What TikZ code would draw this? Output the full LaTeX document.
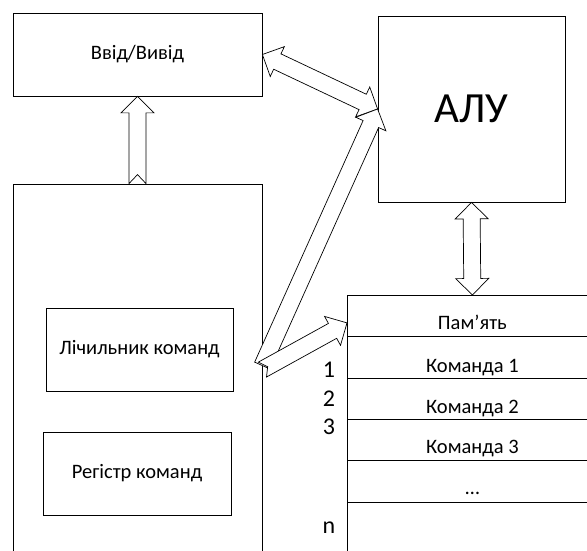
\documentclass[tikz,border=0pt]{standalone}
\usepackage{fontspec}
\setmainfont{Carlito}
\usetikzlibrary{calc}

% block-arrow geometry
\newcommand\shaft{8.5pt}
\newcommand\head{16.5pt}
\newcommand\headlen{16.5pt}

% hollow arrow with a head at each end: #1 -- #2
\newcommand\twowayarrow[2]{%
  \filldraw[blockarrow] (#1)
    -- ($(#1)!\headlen!(#2)!\head!90:(#2)$)
    -- ($(#1)!\headlen!(#2)!\shaft!90:(#2)$)
    -- ($(#2)!\headlen!(#1)!\shaft!-90:(#1)$)
    -- ($(#2)!\headlen!(#1)!\head!-90:(#1)$)
    -- (#2)
    -- ($(#2)!\headlen!(#1)!\head!90:(#1)$)
    -- ($(#2)!\headlen!(#1)!\shaft!90:(#1)$)
    -- ($(#1)!\headlen!(#2)!\shaft!-90:(#2)$)
    -- ($(#1)!\headlen!(#2)!\head!-90:(#2)$)
    -- cycle;}

% hollow arrow from tail #1 to head #2, tail notch depth #3
\newcommand\onewayarrow[3]{%
  \filldraw[blockarrow] ($(#1)!\shaft!90:(#2)$)
    -- ($(#2)!\headlen!(#1)!\shaft!-90:(#1)$)
    -- ($(#2)!\headlen!(#1)!\head!-90:(#1)$)
    -- (#2)
    -- ($(#2)!\headlen!(#1)!\head!90:(#1)$)
    -- ($(#2)!\headlen!(#1)!\shaft!90:(#1)$)
    -- ($(#1)!\shaft!-90:(#2)$)
    -- ($(#1)!#3!(#2)$)
    -- cycle;}

\begin{document}
\begin{tikzpicture}[x=1pt,y=-1pt,
  box/.style={draw=black, line width=0.8pt, fill=white, inner sep=0pt,
              font=\fontsize{20.5}{24}\selectfont},
  row/.style={box, minimum width=250pt, anchor=north west},
  blockarrow/.style={draw=black, line width=0.7pt, fill=white, line join=miter},
  lbl/.style={inner sep=0pt, anchor=base, font=\fontsize{20.5}{24}\selectfont},
  idx/.style={inner sep=0pt, anchor=base, font=\fontsize{24}{28}\selectfont}]

\path[use as bounding box, clip] (0,0) rectangle (587,551);

% functional blocks
\node[box, minimum width=249pt, minimum height=83pt] (io) at (137.5,54.5) {Ввід/Вивід};
\node[box, minimum width=187pt, minimum height=186pt,
      font=\fontsize{43}{50}\selectfont] (alu) at (471.5,109) {АЛУ};
\node[box, minimum width=249pt, minimum height=416pt] (cu) at (137.5,392) {};
\node[box, minimum width=187pt, minimum height=83pt] (pc) at (139.5,349.5) {Лічильник команд};
\node[box, minimum width=188pt, minimum height=83pt] (ir) at (137,473.5) {Регістр команд};

% memory table
\node[row, minimum height=41pt] (mem0) at (347,295) {};
\node[row, minimum height=42pt] (mem1) at (347,336) {};
\node[row, minimum height=41pt] (mem2) at (347,378) {};
\node[row, minimum height=41pt] (mem3) at (347,419) {};
\node[row, minimum height=42pt] (mem4) at (347,460) {};
\node[row, minimum height=98pt] (mem5) at (347,502) {};

\node[lbl] (t0) at ([yshift=7pt]mem0.south) {Пам’ять};
\node[lbl] (t1) at ([yshift=6pt]mem1.south) {Команда 1};
\node[lbl] (t2) at ([yshift=6pt]mem2.south) {Команда 2};
\node[lbl] (t3) at ([yshift=7pt]mem3.south) {Команда 3};
\node[lbl] (t4) at ([yshift=8pt]mem4.south) {…};

% cell addresses
\node[idx] (a1) at (329,377) {1};
\node[idx] (a2) at (329,406) {2};
\node[idx] (a3) at (329,434) {3};
\node[idx] (an) at (329,533) {n};

% connection points
\coordinate (cuup)  at (cu.north);
\coordinate (cualu) at ([yshift=-182pt]cu.north east);
\coordinate (cumem) at ([yshift=-186pt]cu.north east);
\coordinate (memin) at ([yshift=-7pt]mem0.west);

% data paths
\onewayarrow{cuup}{io.south}{9pt}
\twowayarrow{io.east}{alu.west}
\onewayarrow{cualu}{alu.west}{0pt}
\onewayarrow{cumem}{memin}{6pt}
\twowayarrow{alu.south}{mem0.north}

\end{tikzpicture}
\end{document}
